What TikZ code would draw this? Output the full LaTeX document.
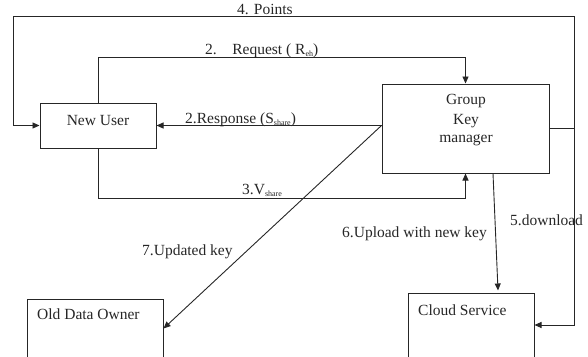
\documentclass[tikz,border=0pt]{standalone}
\usepackage{fontspec}
\setmainfont{Liberation Serif}
\usetikzlibrary{arrows.meta,calc}
% small lowered index text
\newcommand{\lowidx}[1]{\raisebox{-2.5pt}{\fontsize{8}{8}\selectfont #1}}
\begin{document}
\begin{tikzpicture}[x=1pt,y=-1pt,
  box/.style={draw=black!85,line width=1pt,rectangle,inner sep=0pt},
  link/.style={draw=black!85,line width=0.9pt},
  arr/.style={link,-{Triangle[length=7pt,width=6pt]}},
  lbl/.style={text=black!85,font=\fontsize{15.5}{19}\selectfont,inner sep=0pt},
]
\useasboundingbox (0,0) rectangle (588,356);

% boxes
\node[box,minimum width=116pt,minimum height=45pt] (nu) at (98,125.5) {};
\node[box,minimum width=167pt,minimum height=89pt] (gk) at (465.5,128.5) {};
\node[box,minimum width=136pt,minimum height=59pt] (od) at (95,328.5) {};
\node[box,minimum width=126pt,minimum height=64pt] (cs) at (471,325) {};

% box texts
\node[lbl,anchor=base] (nut) at (98,125) {New User};
\node[lbl,anchor=base] (gkt1) at (466,104) {Group};
\node[lbl,anchor=base] (gkt2) at (466,124) {Key};
\node[lbl,anchor=base] (gkt3) at (466,142) {manager};
\node[lbl,anchor=base west] (odt) at (37,319) {Old Data Owner};
\node[lbl,anchor=base west] (cst) at (418,315) {Cloud Service};

% corner points
\coordinate (j) at (574,128.5);
\coordinate (tl) at (13,16);
\coordinate (rq) at (98,57.5);
\coordinate (vs) at (98,198.5);
\coordinate (rs) at (gk.west |- nu.east);

% 4. Points and 5. download
\draw[link] (gk.east) -- (j);
\draw[arr] (j) |- (tl) |- (nu.west);
\draw[arr] (j) |- (cs.east);

% 2. Request
\draw[arr] (nu.north) -- (rq) -| (gk.north);
% 3. V share
\draw[arr] (nu.south) -- (vs) -| (gk.south);
% 2. Response
\draw[arr] (rs) -- (nu.east);
% 7. Updated key
\draw[arr] (rs) -- (od.east);
% 6. Upload with new key
\draw[arr] ($(gk.south)+(27.5,0)$) -- ($(cs.north)+(27,-2)$);

% connector labels
\node[lbl,anchor=base west] (l4) at (237,14) {4. Points};
\node[lbl,anchor=base west] (l2a) at (205,54) {2.\hspace{1em}Request ( R\lowidx{eh})};
\node[lbl,anchor=base west] (l2b) at (185,123) {2.Response (S\lowidx{share})};
\node[lbl,anchor=base west] (l3) at (242,194) {3.V\lowidx{share}};
\node[lbl,anchor=base west] (l7) at (142,255) {7.Updated key};
\node[lbl,anchor=base west] (l6) at (342,237) {6.Upload with new key};
\node[lbl,anchor=base west] (l5) at (510,225) {5.download};
\end{tikzpicture}
\end{document}
